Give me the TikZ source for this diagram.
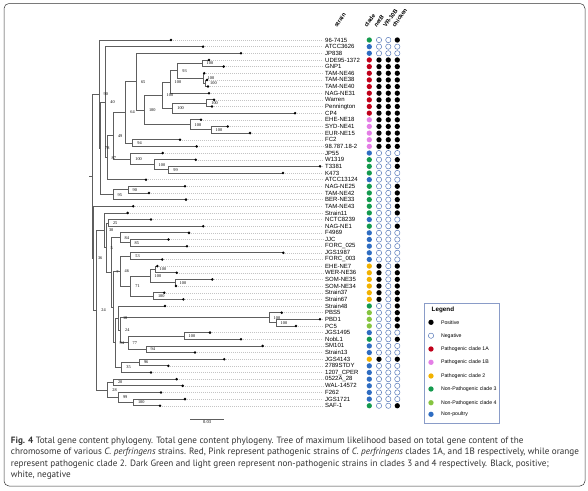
\documentclass[tikz,border=0pt]{standalone}
\usepackage{fontspec}
\newfontfamily\lblfont{Liberation Sans}
\newfontfamily\bootfont{Liberation Serif}
\newfontfamily\capfont{PT Sans}
\usetikzlibrary{positioning}

\definecolor{treegray}{HTML}{5E5E5E}
\definecolor{leadgray}{HTML}{C4C4C4}
\definecolor{negblue}{HTML}{4A6FB5}
\definecolor{cRed}{HTML}{C0001A}
\definecolor{cPink}{HTML}{E47EE6}
\definecolor{cBlue}{HTML}{2F6DC2}
\definecolor{cGreen}{HTML}{149A4E}
\definecolor{cLight}{HTML}{86C440}
\definecolor{cOrange}{HTML}{F2B200}
\definecolor{capgray}{HTML}{333333}
\definecolor{boxblue}{HTML}{8A9CC8}

\tikzstyle{branch} = [draw=treegray, line width=0.75pt]
\tikzstyle{lead} = [draw=leadgray, line width=0.4pt,
			dash pattern=on 0.7pt off 1.3pt]
\tikzstyle{tipdot} = [circle, fill=black, inner sep=0pt, minimum size=2.8pt]
\tikzstyle{strain} = [anchor=west, inner sep=0pt,
			font=\lblfont\fontsize{6}{6}\selectfont]
\tikzstyle{boot} = [anchor=west, inner sep=0pt, xshift=4.5pt,
			font=\bootfont\fontsize{4.3}{4.3}\selectfont]
\tikzstyle{head} = [anchor=base west, rotate=55, inner sep=0pt,
			font=\lblfont\bfseries\fontsize{5.8}{5.8}\selectfont]
\tikzstyle{blob} = [circle, inner sep=0pt, minimum size=5.3pt]
\tikzstyle{p1} = [blob, fill=black]
\tikzstyle{p0} = [blob, draw=negblue, line width=0.45pt, fill=white]
\tikzstyle{kR} = [blob, fill=cRed]
\tikzstyle{kP} = [blob, fill=cPink]
\tikzstyle{kB} = [blob, fill=cBlue]
\tikzstyle{kG} = [blob, fill=cGreen]
\tikzstyle{kL} = [blob, fill=cLight]
\tikzstyle{kO} = [blob, fill=cOrange]
\tikzstyle{legtxt} = [anchor=west, inner sep=0pt,
			font=\lblfont\fontsize{5.2}{5.2}\selectfont]
\tikzstyle{captext} = [anchor=base west, inner sep=0pt, text=capgray,
			font=\capfont\fontsize{9.15}{10}\selectfont]

\begin{document}
\begin{tikzpicture}[x=1pt, y=-1pt]

\useasboundingbox (0,0) rectangle (588,490);
\fill[white] (0,0) rectangle (588,490);

\draw[draw=capgray, line width=0.5pt, rounded corners=5pt] (4,3.5) rectangle (585,486);

% inner nodes of the tree
\coordinate (stem) at (89,176.2);
\coordinate (root) at (92.3,176.2);
\coordinate (A0) at (99,94.2);
\coordinate (A0b) at (100.5,148.4);
\coordinate (A1) at (105.7,102.1);
\coordinate (A1b) at (106.9,157.6);
\coordinate (n49) at (113.3,135.6);
\coordinate (n64) at (125.7,112.4);
\coordinate (n65) at (136.3,81.6);
\coordinate (n100a) at (144.3,110.0);
\coordinate (n412) at (162,95.1);
\coordinate (n409) at (170,82.0);
\coordinate (n408) at (177.7,70.75);
\coordinate (n405) at (202,63.3);
\coordinate (n608) at (203,78.2);
\coordinate (n708) at (205.5,83.2);
\coordinate (n1012) at (172.7,108.2);
\coordinate (n1011) at (206.7,103.2);
\coordinate (n1315) at (190,124.8);
\coordinate (n1415) at (211,129.8);
\coordinate (n1617) at (132.7,143.1);
\coordinate (n1821) at (130.7,158.9);
\coordinate (n1921) at (154,164.7);
\coordinate (n2021) at (168.7,169.7);
\coordinate (n2325) at (113,194.6);
\coordinate (n2324) at (128,189.6);

\coordinate (B0) at (93.3,258.2);
\coordinate (B1) at (96.7,310.15);
\coordinate (n30) at (104.3,230.3);
\coordinate (n5) at (106,247.65);
\coordinate (n2829) at (108.3,222.9);
\coordinate (n7) at (111.7,272.4);
\coordinate (n3032) at (120,237.8);
\coordinate (n3132) at (130,242.8);
\coordinate (n3351) at (113.3,307.0);
\coordinate (n3340) at (120,271.1);
\coordinate (n3334) at (130.7,256.1);
\coordinate (n3540) at (130.7,286.1);
\coordinate (n3538) at (150,276.1);
\coordinate (n3536) at (155,269.4);
\coordinate (n3738) at (175,282.7);
\coordinate (n3940) at (153.3,296.0);
\coordinate (n4151) at (115,342.8);
\coordinate (n4148) at (118.3,318.05);
\coordinate (n4248) at (120.5,330.1);
\coordinate (n4244) at (269,317.6);
\coordinate (n4344) at (276,322.6);
\coordinate (n4548) at (128,342.6);
\coordinate (n4546) at (184,335.9);
\coordinate (n4748) at (146,349.2);
\coordinate (n4951) at (121.7,367.5);
\coordinate (n4950) at (139.3,362.5);
\coordinate (n5256) at (107.7,390.0);
\coordinate (n5253) at (113.3,382.5);
\coordinate (n5456) at (118.3,397.4);
\coordinate (n5556) at (133.3,402.4);

% leaves, labels and the four columns
\foreach \strname/\tipx/\cla/\nb/\vr/\ck [count=\i] in {
	96-7415/171/G/0/0/1, ATCC3626/203/B/0/0/0, JP838/241/B/0/0/0,
	UDE95-1372/209/R/1/1/1, GNP1/223.7/R/1/1/1, TAM-NE46/204.3/R/1/1/1,
	TAM-NE38/207/R/1/1/1, TAM-NE40/208/R/1/1/1, NAG-NE31/209/R/1/1/1,
	Warren/214/R/1/1/1, Pennington/212/R/1/1/1, CP4/295/R/1/1/1,
	EHE-NE18/201/P/1/1/1, SYD-NE41/227.7/P/1/1/1, EUR-NE15/250/P/1/1/1,
	FC2/180/P/1/1/1, 98.787.18-2/196.7/P/1/1/1, JP55/162.7/B/0/0/0,
	W1319/195.7/G/0/0/1, T3381/320/G/0/0/1, K473/283/G/0/0/0,
	ATCC13124/146/B/0/0/0, NAG-NE25/185/G/0/0/1, TAM-NE42/149/G/0/0/1,
	BER-NE33/186/G/0/0/1, TAM-NE43/133.3/G/0/0/1, Strain11/127.7/G/0/0/1,
	NCTC8239/151/B/0/0/0, NAG-NE1/203.3/G/0/0/1, F4969/189/B/0/0/0,
	JJC/168.5/B/0/0/0, FORC\_025/187/B/0/0/0, JGS1987/283.3/B/0/0/0,
	FORC\_003/162.3/B/0/0/0, EHE-NE7/157.3/O/1/0/1, WER-NE36/176.7/O/1/0/1,
	SOM-NE35/212.3/O/1/0/1, SOM-NE34/176/O/1/0/1, Strain37/164.3/O/1/0/1,
	Strain67/183.3/O/1/0/1, Strain48/165/G/0/0/1, PBS5/281.7/L/0/0/1,
	PBD1/320/L/0/0/1, PC5/296/L/0/0/1, JGS1495/210/B/0/0/0,
	NobL1/241/G/0/0/1, SM101/262.7/B/0/0/0, Strain13/195/B/0/0/0,
	JGS4143/224.3/O/1/0/1, 2789STDY/168.3/B/0/0/0, 1207\_CPER/151/B/0/0/0,
	0522A\_28/176.7/B/0/0/0, WAL-14572/182.7/B/0/0/0, F262/161/B/0/0/0,
	JGS1721/185/B/0/0/0, SAF-1/160/G/0/0/1}
{
	\pgfmathsetmacro\yy{40+6.65*(\i-1)}
	\coordinate (l\i) at (\tipx,\yy);
	\coordinate (e\i) at (323,\yy);
	\draw[lead] (l\i) -- (e\i);
	\node[strain] (s\i) at (325,\yy) {\strname};
	\node[k\cla] (c\i) at (369.3,\yy) {};
	\node[p\nb] (nb\i) at (379,\yy) {};
	\node[p\vr] (vr\i) at (388.3,\yy) {};
	\node[p\ck] (ck\i) at (397.3,\yy) {};
}

% branches
\draw[branch] (stem) -- (root);
\foreach \mom/\kid in {root/A0, root/B0, A0/l1, A0/A0b, A0b/A1, A0b/n2325,
	A1/l2, A1/A1b, A1b/n49, A1b/l22, n49/n64, n49/n1821, n64/n65, n64/n1617,
	n65/l3, n65/n100a, n100a/n412, n100a/n1315, n412/n409, n412/n1012,
	n409/n408, n409/l9, n408/n405, n408/n608, n405/l4, n405/l5, n608/l6,
	n608/n708, n708/l7, n708/l8, n1012/n1011, n1012/l12, n1011/l10, n1011/l11,
	n1315/l13, n1315/n1415, n1415/l14, n1415/l15, n1617/l16, n1617/l17,
	n1821/l18, n1821/n1921, n1921/l19, n1921/n2021, n2021/l20, n2021/l21,
	n2325/n2324, n2325/l25, n2324/l23, n2324/l24,
	B0/l26, B0/B1, B1/n30, B1/n5256, n30/l27, n30/n5, n5/n2829, n5/n7,
	n2829/l28, n2829/l29, n7/n3032, n7/n3351, n3032/l30, n3032/n3132,
	n3132/l31, n3132/l32, n3351/n3340, n3351/n4151, n3340/n3334, n3340/n3540,
	n3334/l33, n3334/l34, n3540/n3538, n3540/n3940, n3538/n3536, n3538/n3738,
	n3536/l35, n3536/l36, n3738/l37, n3738/l38, n3940/l39, n3940/l40,
	n4151/n4148, n4151/n4951, n4148/l41, n4148/n4248, n4248/n4244,
	n4248/n4548, n4244/l42, n4244/n4344, n4344/l43, n4344/l44,
	n4548/n4546, n4548/n4748, n4546/l45, n4546/l46, n4748/l47, n4748/l48,
	n4951/n4950, n4951/l51, n4950/l49, n4950/l50, n5256/n5253, n5256/n5456,
	n5253/l52, n5253/l53, n5456/l54, n5456/n5556, n5556/l55, n5556/l56}
	\draw[branch] (\mom) |- (\kid);

\foreach \i in {1,...,56}
	\node[tipdot] (d\i) at (l\i) {};

% support values
\foreach \nd/\val in {A0/90, A0b/78, A1/40, A1b/87, n49/49, n64/64, n65/65,
	n100a/100, n412/100, n409/100, n408/93, n405/100, n608/100, n708/100,
	n1012/100, n1011/100, n1315/100, n1415/100, n1617/94, n1821/100,
	n1921/100, n2021/99, n2325/95, n2324/90, B0/36, B1/24, n30/30, n5/5,
	n2829/25, n7/7, n3032/84, n3132/85, n3340/46, n3334/53, n3540/71,
	n3538/100, n3536/100, n3738/100, n3940/100, n4151/94, n4148/18,
	n4248/24, n4244/100, n4344/100, n4548/77, n4546/100, n4748/94,
	n4951/35, n4950/96, n5256/28, n5253/20, n5456/99, n5556/100}
	\node[boot] (b\nd) at (\nd) {\val};

% scale bar
\coordinate (sbl) at (190,419);
\coordinate (sbr) at (224.3,419);
\draw[draw=treegray, line width=0.6pt] (sbl) -- node[below=1.5pt, inner sep=0pt,
	font=\bootfont\fontsize{4.5}{4.5}\selectfont] (sbv) {0.03} (sbr);

% column heads
\node[head] (hs) at (337,28) {strain};
\node[head] (hc) at (367,28) {clade};
\node[head] (hn) at (376.7,28) {\itshape netB};
\node[head] (hv) at (386,28) {VR-10B};
\node[head] (hk) at (395,28) {chicken};

% legend
\draw[draw=boxblue, line width=0.6pt] (424,303.3) rectangle (499.3,423.3);
\node[legtxt, font=\lblfont\bfseries\fontsize{6.3}{6.3}\selectfont] (legt) at (431.5,309.5) {Legend};
\foreach \sty/\txt/\yy [count=\k] in {p1/Positive/322.3, p0/Negative/335.7,
	kR/Pathogenic clade 1A/349, kP/Pathogenic clade 1B/362.3,
	kO/Pathogenic clade 2/376, kG/Non-Pathogenic clade 3/389,
	kL/Non-Pathogenic clade 4/402.7, kB/Non-poultry/414.3}
{
	\node[\sty, minimum size=5.3pt] (ld\k) at (431,\yy) {};
	\node[legtxt, right=7pt of ld\k] (lt\k) {\txt};
}

% caption
\node[captext] (cap1) at (10.7,443) {\textbf{Fig. 4} Total gene content phylogeny. Total gene content phylogeny. Tree of maximum likelihood based on total gene content of the};
\node[captext] (cap2) at (10.7,454.5) {chromosome of various \textit{C. perfringens} strains. Red, Pink represent pathogenic strains of \textit{C. perfringens} clades 1A, and 1B respectively, while orange};
\node[captext] (cap3) at (10.7,466) {represent pathogenic clade 2. Dark Green and light green represent non-pathogenic strains in clades 3 and 4 respectively. Black, positive;};
\node[captext] (cap4) at (10.7,477.5) {white, negative};

\end{tikzpicture}
\end{document}
